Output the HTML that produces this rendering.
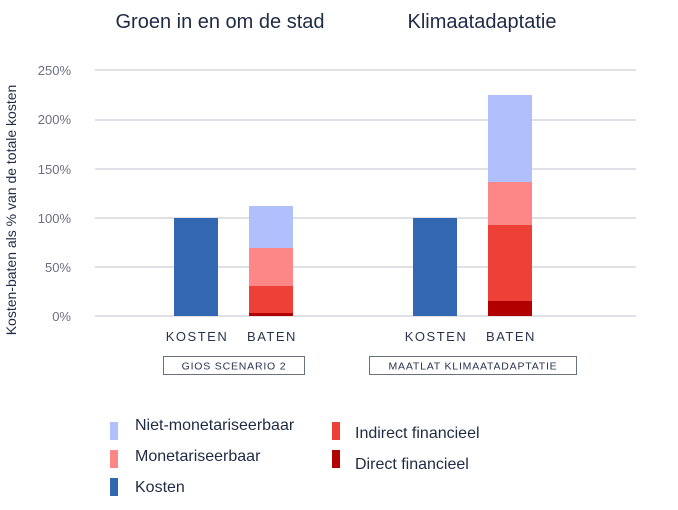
<!DOCTYPE html>
<html><head><style>body{margin:0;background:#fff}</style></head><body>
<svg width="678" height="505" xmlns="http://www.w3.org/2000/svg" font-family="Liberation Sans, sans-serif">
<text x="220" y="28" text-anchor="middle" font-size="20" fill="#1f2a44">Groen in en om de stad</text>
<text x="482" y="28" text-anchor="middle" font-size="20" fill="#1f2a44">Klimaatadaptatie</text>
<g stroke="#d6d6de" stroke-width="1.5">
<line x1="95" x2="636" y1="70" y2="70"/><line x1="95" x2="636" y1="120" y2="120"/><line x1="95" x2="636" y1="169" y2="169"/><line x1="95" x2="636" y1="218" y2="218"/><line x1="95" x2="636" y1="267" y2="267"/><line x1="95" x2="636" y1="316" y2="316"/>
</g>
<g font-size="13" fill="#6b7080" text-anchor="end">
<text x="71" y="75">250%</text><text x="71" y="124">200%</text><text x="71" y="174">150%</text><text x="71" y="223">100%</text><text x="71" y="272">50%</text><text x="71" y="321">0%</text>
</g>
<text transform="translate(16,210) rotate(-90)" text-anchor="middle" font-size="14" fill="#1f2a44">Kosten-baten als % van de totale kosten</text>
<rect x="174" y="218" width="44" height="98" fill="#3267b1"/>
<rect x="249" y="206" width="44" height="42" fill="#b0c0fc"/>
<rect x="249" y="248" width="44" height="38" fill="#fd8787"/>
<rect x="249" y="286" width="44" height="27" fill="#ed4036"/>
<rect x="249" y="313" width="44" height="3" fill="#b20000"/>
<rect x="413" y="218" width="44" height="98" fill="#3267b1"/>
<rect x="488" y="95" width="44" height="87" fill="#b0c0fc"/>
<rect x="488" y="182" width="44" height="43" fill="#fd8787"/>
<rect x="488" y="225" width="44" height="76" fill="#ed4036"/>
<rect x="488" y="301" width="44" height="15" fill="#b20000"/>
<g font-size="13" fill="#2a3450" text-anchor="middle" letter-spacing="1.5">
<text x="197" y="341">KOSTEN</text><text x="272" y="341">BATEN</text>
<text x="436" y="341">KOSTEN</text><text x="511" y="341">BATEN</text>
</g>
<rect x="163.5" y="356.5" width="141" height="18" fill="none" stroke="#6b7080"/>
<rect x="369.5" y="356.5" width="207" height="18" fill="none" stroke="#6b7080"/>
<g font-size="10.5" fill="#2a3450" text-anchor="middle" letter-spacing="0.8">
<text x="234" y="369.5">GIOS SCENARIO 2</text><text x="473" y="369.5">MAATLAT KLIMAATADAPTATIE</text>
</g>
<rect x="110" y="422" width="8" height="18" fill="#b0c0fc"/>
<rect x="110" y="450" width="8" height="18" fill="#fd8787"/>
<rect x="110" y="478" width="8" height="18" fill="#3267b1"/>
<rect x="332" y="422" width="8" height="18" fill="#ed4036"/>
<rect x="332" y="450" width="8" height="18" fill="#b20000"/>
<g font-size="16" fill="#1f2a44">
<text x="135" y="430">Niet-monetariseerbaar</text>
<text x="135" y="461">Monetariseerbaar</text>
<text x="135" y="492">Kosten</text>
<text x="355" y="438">Indirect financieel</text>
<text x="355" y="469">Direct financieel</text>
</g>
</svg>
</body></html>
